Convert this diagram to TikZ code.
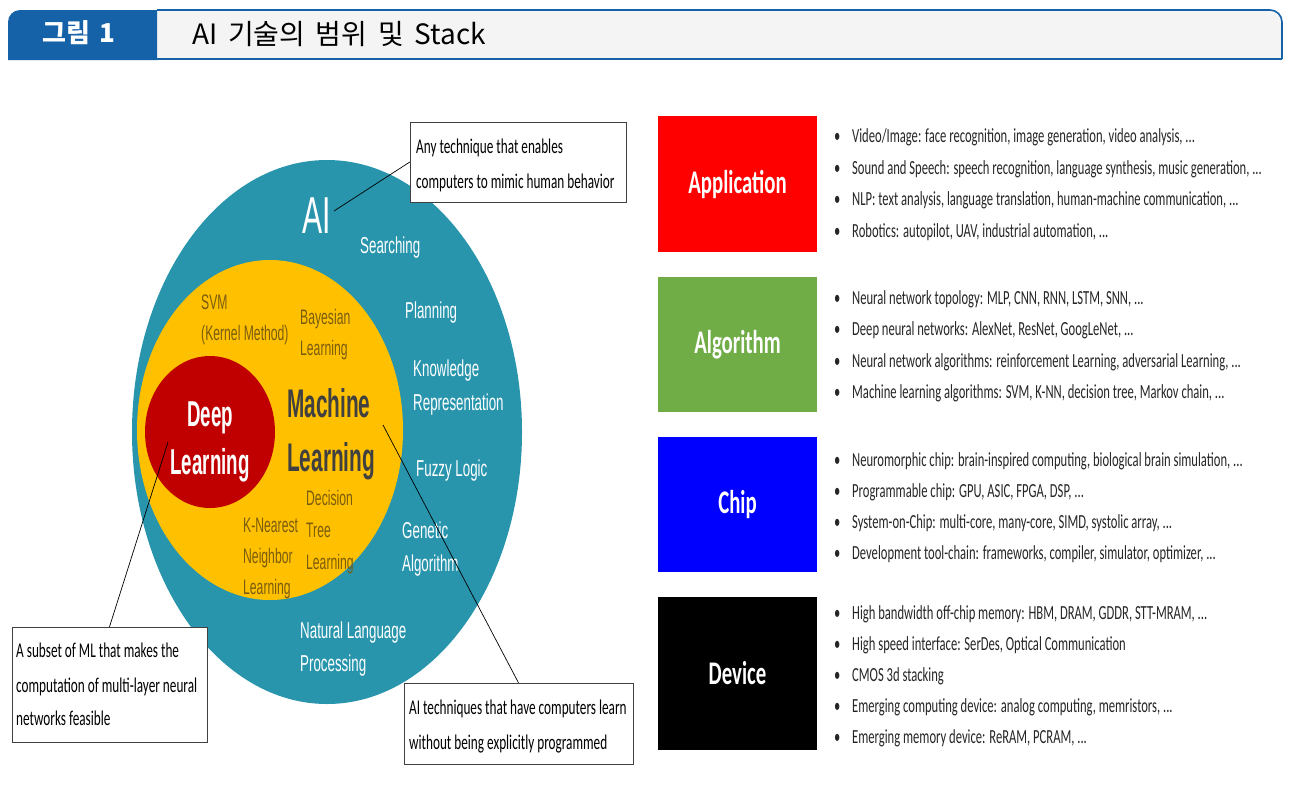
\documentclass[tikz,border=0pt]{standalone}
\usepackage{fontspec}
\setmainfont{Liberation Sans}
\newfontfamily\cjk{Noto Sans CJK KR}
\newfontfamily\narrow[FakeStretch=0.58]{Liberation Sans}
\newfontfamily\narrowbold[FakeStretch=0.52]{Liberation Sans Bold}
\newfontfamily\calib[FakeStretch=0.63]{Carlito}
\newfontfamily\calibbold[FakeStretch=0.63]{Carlito Bold}
\usetikzlibrary{shapes.geometric}
\definecolor{headblue}{HTML}{1562A8}
\definecolor{barfill}{HTML}{F4F4F4}
\definecolor{aiteal}{HTML}{2895AD}
\definecolor{mlgold}{HTML}{FFC000}
\definecolor{dlred}{HTML}{C00000}
\definecolor{mltext}{HTML}{7A5C0E}
\definecolor{mldark}{HTML}{404040}
\definecolor{appred}{HTML}{FF0000}
\definecolor{alggreen}{HTML}{70AD47}
\definecolor{chipblue}{HTML}{0000FF}
\tikzset{
  zone/.style={ellipse, inner sep=0pt},
  whitelbl/.style={anchor=base west, inner sep=0pt, text=white, font=\narrow\fontsize{23}{23}\selectfont},
  goldlbl/.style={anchor=base west, inner sep=0pt, text=mltext, font=\narrow\fontsize{21}{21}\selectfont},
  mllbl/.style={anchor=base west, inner sep=0pt, text=mldark, font=\narrowbold\fontsize{40}{40}\selectfont},
  dllbl/.style={anchor=base, inner sep=0pt, text=white, font=\narrowbold\fontsize{36}{36}\selectfont},
  callout/.style={draw=mldark, line width=0.9pt, fill=white, inner sep=0pt},
  callline/.style={anchor=base west, inner sep=0pt, font=\calib\fontsize{21}{21}\selectfont},
  leader/.style={draw=black, line width=0.7pt},
  layer/.style={inner sep=0pt, minimum width=159pt, text=white, font=\calibbold\fontsize{33}{33}\selectfont},
  bul/.style={anchor=base west, inner sep=0pt, text=black!85, font=\calib\fontsize{20}{20}\selectfont}
}
\newcommand{\bl}{\makebox[18pt][l]{•}}
\newcommand{\wsp}{\hspace{0.38em}}
\begin{document}
\begin{tikzpicture}[x=1pt,y=-1pt]
\useasboundingbox (0,0) rectangle (1296,796);
\fill[white] (0,0) rectangle (1296,796);

% ---------- title bar ----------
\fill[barfill] (157,10) -- (1270,10) arc[start angle=270,end angle=360,radius=12] -- (1282,58) -- (157,58) -- cycle;
\draw[headblue, line width=1.6pt] (157,10) -- (1270,10) arc[start angle=270,end angle=360,radius=12] -- (1282,59);
\fill[headblue] (8,60) -- (8,22) arc[start angle=180,end angle=270,radius=12] -- (157,10) -- (157,60) -- cycle;
\draw[headblue, line width=2pt] (8,59) -- (1282,59);
\node[text=white, font=\cjk\bfseries\fontsize{26}{26}\selectfont] (fignum) at (79,33) {그림\wsp 1};
\node[anchor=west, inner sep=0pt, font=\cjk\fontsize{28}{28}\selectfont] (title) at (192,34) {AI\wsp 기술의\wsp 범위\wsp 및\wsp Stack};

% ---------- nested scope diagram ----------
\node[zone, fill=aiteal, minimum width=390pt, minimum height=544pt] (ai) at (327,432) {};
\node[zone, fill=mlgold, minimum width=266pt, minimum height=340pt] (ml) at (270,430) {};
\node[zone, fill=dlred, minimum width=130pt, minimum height=152pt] (dl) at (210,432) {};

\node[anchor=base west, inner sep=0pt, text=white, font=\narrow\fontsize{52}{52}\selectfont] (ailbl) at (302,233) {AI};
\node[whitelbl] (srch) at (360,253) {Searching};
\node[whitelbl] (plan) at (405,318) {Planning};
\node[whitelbl] (know) at (413,376) {Knowledge};
\node[whitelbl] (repr) at (413,410) {Representation};
\node[whitelbl] (fuzzy) at (416,476) {Fuzzy Logic};
\node[whitelbl] (gen) at (402,538) {Genetic};
\node[whitelbl] (algo) at (402,571) {Algorithm};
\node[whitelbl] (nat) at (300,638) {Natural Language};
\node[whitelbl] (proc) at (300,671) {Processing};

\node[goldlbl] (svm) at (201,309) {SVM};
\node[goldlbl] (kern) at (201,340) {(Kernel Method)};
\node[goldlbl] (bay) at (300,324) {Bayesian};
\node[goldlbl] (bayl) at (300,355) {Learning};
\node[goldlbl] (dec) at (306,505) {Decision};
\node[goldlbl] (tree) at (306,537) {Tree};
\node[goldlbl] (treel) at (306,569) {Learning};
\node[goldlbl] (knn) at (243,532) {K-Nearest};
\node[goldlbl] (nbr) at (243,563) {Neighbor};
\node[goldlbl] (knnl) at (243,594) {Learning};

\node[mllbl] (mach) at (287,417) {Machine};
\node[mllbl] (mlearn) at (287,471) {Learning};
\node[dllbl] (deep) at (210,426) {Deep};
\node[dllbl] (dlearn) at (210,474) {Learning};

% ---------- callouts ----------
\path[callout] (410,122) rectangle (626,202);
\node[inner sep=0pt, minimum width=216pt, minimum height=80pt] (cai) at (518,162) {};
\node[callline] (cai1) at (416,153) {Any technique that enables};
\node[callline] (cai2) at (416,188) {computers to mimic human behavior};

\path[callout] (12,627) rectangle (207,742);
\node[inner sep=0pt, minimum width=195pt, minimum height=115pt] (cdl) at (109.5,684.5) {};
\node[callline] (cdl1) at (16,657) {A subset of ML that makes the};
\node[callline] (cdl2) at (16,692) {computation of multi-layer neural};
\node[callline] (cdl3) at (16,725) {networks feasible};

\path[callout] (404,683) rectangle (633,764);
\node[inner sep=0pt, minimum width=229pt, minimum height=81pt] (cml) at (518.5,723.5) {};
\node[callline] (cml1) at (409,714) {AI techniques that have computers learn};
\node[callline] (cml2) at (409,749) {without being explicitly programmed};

\coordinate (aitip) at (334,211);
\coordinate (dltip) at (168,442);
\coordinate (mltip) at (383,425);
\draw[leader] (aitip) -- (cai.west);
\draw[leader] (dltip) -- (cdl.north);
\draw[leader] (mltip) -- (cml.north);

% ---------- technology stack ----------
\node[layer, fill=appred, minimum height=136pt] (app) at (737.5,184) {Application};
\node[layer, fill=alggreen, minimum height=135pt] (alg) at (737.5,344.5) {Algorithm};
\node[layer, fill=chipblue, minimum height=135pt] (chip) at (737.5,504.5) {Chip};
\node[layer, fill=black, minimum height=153pt] (dev) at (737.5,673.5) {Device};

\node[bul] (a1) at (834,142) {\bl Video/Image: face recognition, image generation, video analysis, ...};
\node[bul] (a2) at (834,174) {\bl Sound and Speech: speech recognition, language synthesis, music generation, ...};
\node[bul] (a3) at (834,205) {\bl NLP: text analysis, language translation, human-machine communication, ...};
\node[bul] (a4) at (834,237) {\bl Robotics: autopilot, UAV, industrial automation, ...};

\node[bul] (g1) at (834,304) {\bl Neural network topology: MLP, CNN, RNN, LSTM, SNN, ...};
\node[bul] (g2) at (834,335) {\bl Deep neural networks: AlexNet, ResNet, GoogLeNet, ...};
\node[bul] (g3) at (834,367) {\bl Neural network algorithms: reinforcement Learning, adversarial Learning, ...};
\node[bul] (g4) at (834,398) {\bl Machine learning algorithms: SVM, K-NN, decision tree, Markov chain, ...};

\node[bul] (c1) at (834,466) {\bl Neuromorphic chip: brain-inspired computing, biological brain simulation, ...};
\node[bul] (c2) at (834,497) {\bl Programmable chip: GPU, ASIC, FPGA, DSP, ...};
\node[bul] (c3) at (834,528) {\bl System-on-Chip: multi-core, many-core, SIMD, systolic array, ...};
\node[bul] (c4) at (834,559) {\bl Development tool-chain: frameworks, compiler, simulator, optimizer, ...};

\node[bul] (d1) at (834,619) {\bl High bandwidth off-chip memory: HBM, DRAM, GDDR, STT-MRAM, ...};
\node[bul] (d2) at (834,650) {\bl High speed interface: SerDes, Optical Communication};
\node[bul] (d3) at (834,681) {\bl CMOS 3d stacking};
\node[bul] (d4) at (834,712) {\bl Emerging computing device: analog computing, memristors, ...};
\node[bul] (d5) at (834,743) {\bl Emerging memory device: ReRAM, PCRAM, ...};
\end{tikzpicture}
\end{document}
